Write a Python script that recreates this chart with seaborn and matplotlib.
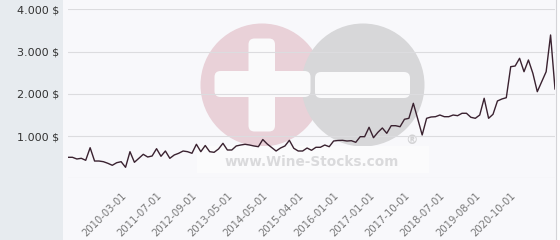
import matplotlib
matplotlib.use("Agg")
import matplotlib.pyplot as plt
from matplotlib.patches import Rectangle, Circle, FancyBboxPatch
from matplotlib.ticker import FixedLocator, FuncFormatter
import seaborn as sns
import pandas as pd

# ---- data ----
prices = [497, 497, 457, 473, 426, 724, 409, 409, 393, 355,
          308, 369, 393, 260, 630, 379, 473, 568, 504, 528,
          701, 521, 646, 473, 552, 592, 646, 630, 592, 805,
          630, 776, 630, 615, 694, 828, 670, 670, 765, 788,
          805, 788, 765, 748, 918, 812, 729, 646, 717, 765,
          899, 710, 646, 646, 717, 663, 734, 734, 788, 748,
          883, 895, 899, 883, 890, 852, 985, 985, 1207, 961,
          1089, 1191, 1065, 1245, 1245, 1221, 1397, 1420, 1775, 1404,
          1025, 1420, 1451, 1458, 1498, 1458, 1458, 1498, 1482, 1539,
          1539, 1444, 1420, 1498, 1894, 1420, 1515, 1830, 1877, 1908,
          2642, 2658, 2840, 2523, 2800, 2485, 2050, 2287, 2523, 3392,
          2114]
tick_labels = ["2010-03-01", "2011-07-01", "2012-09-01", "2013-05-01",
               "2014-05-01", "2015-04-01", "2016-01-01", "2017-01-01",
               "2017-10-01", "2018-07-01", "2019-08-01", "2020-10-01"]
y_ticks = [0, 1000, 2000, 3000, 4000]

label_start, label_every = 12, 8

df = pd.DataFrame({"idx": range(len(prices)), "price": prices})

W, H = 560, 240
fig = plt.figure(figsize=(W / 100, H / 100), dpi=100)

# ---- background layer in pixel coordinates ----
bg = fig.add_axes([0, 0, 1, 1])
bg.set_xlim(0, W)
bg.set_ylim(H, 0)
bg.axis("off")
bg.add_patch(Rectangle((0, 0), 63, H, color="#e7ebef", lw=0))
bg.add_patch(Rectangle((63, 0), 493, H, color="#f8f8fb", lw=0))
bg.add_patch(Rectangle((556, 0), 4, H, color="#fcfcfd", lw=0))
bg.plot([556, 556], [0, H], color="#d4d4d8", lw=0.8)

# watermark
bg.add_patch(Circle((262, 85), 61.5, color="#e9d1d8", lw=0))
bg.add_patch(Circle((363, 85), 61.5, color="#d7d7d9", lw=0))
bg.add_patch(FancyBboxPatch((248.5 + 6, 38.5 + 6), 26.5 - 12, 93 - 12,
                            boxstyle="round,pad=6", color="#fafafb", lw=0))
bg.add_patch(FancyBboxPatch((214.5 + 6, 71 + 6), 96 - 12, 26 - 12,
                            boxstyle="round,pad=6", color="#fafafb", lw=0))
bg.add_patch(FancyBboxPatch((315 + 6, 72 + 6), 95 - 12, 26 - 12,
                            boxstyle="round,pad=6", color="#fafafb", lw=0))
bg.add_patch(Rectangle((197, 146), 232, 27, color="#fbfbfc", lw=0))
bg.text(312, 162, "www.Wine-Stocks.com", ha="center", va="center",
        fontsize=9.8, fontweight="bold", color="#dadadc")
bg.text(411.5, 140, "®", ha="center", va="center",
        fontsize=9, fontweight="bold", color="#d2d2d4")

# ---- main chart ----
ax = fig.add_axes([68 / W, (H - 178.3) / H, 487 / W, 169 / H])
ax.set_facecolor("none")
sns.lineplot(data=df, x="idx", y="price", ax=ax, color="#3a2230",
             linewidth=1.0, zorder=3)
ax.set_xlim(0, len(prices) - 1)
ax.set_ylim(y_ticks[0], y_ticks[-1])

for s in ax.spines.values():
    s.set_visible(False)

ax.yaxis.set_major_locator(FixedLocator(y_ticks))
ax.yaxis.set_major_formatter(FuncFormatter(
    lambda v, p: "" if v == 0 else f"{int(v):,}".replace(",", ".") + " $"))
ax.grid(axis="y", color="#dcdcdf", linewidth=0.8, zorder=0)
ax.grid(axis="x", visible=False)
ax.tick_params(axis="y", length=0, pad=6.5, labelsize=8, labelcolor="#333333")

positions = [label_start + label_every * i for i in range(len(tick_labels))]
ax.set_xticks(positions)
ax.set_xticklabels(tick_labels, rotation=45, ha="right",
                   rotation_mode="anchor", fontsize=7.2, color="#787878")
ax.tick_params(axis="x", length=0, pad=9)
ax.set_xlabel("")
ax.set_ylabel("")

fig.savefig("out.png", dpi=100)
